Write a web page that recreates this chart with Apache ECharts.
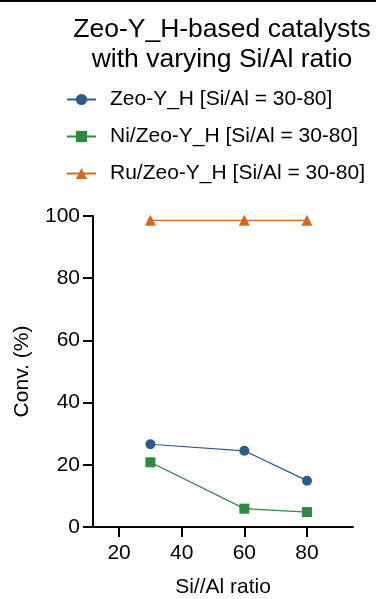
<!DOCTYPE html>
<html>
<head>
<meta charset="utf-8">
<script src="https://cdn.jsdelivr.net/npm/echarts@6/dist/echarts.min.js"></script>
<style>
  html, body { margin: 0; padding: 0; background: #fff; }
  #chart { width: 376px; height: 599px; }
</style>
</head>
<body>
<div id="chart"></div>
<script>
// Si/Al ratio of each sample
const siAlRatios = [30, 60, 80];
// Conversion (%) per catalyst
const zeoYH = [26.6, 24.5, 14.9];
const niZeoYH = [20.8, 5.9, 4.8];
const ruZeoYH = [98.6, 98.6, 98.6];
// Axis ticks
const xTicks = [20, 40, 60, 80];
const yTicks = [0, 20, 40, 60, 80, 100];

const seriesNames = [
  'Zeo-Y_H [Si/Al = 30-80]',
  'Ni/Zeo-Y_H [Si/Al = 30-80]',
  'Ru/Zeo-Y_H [Si/Al = 30-80]'
];
const FONT = "'Liberation Sans', Arial, Helvetica, sans-serif";
const colors = ['#2b5a8e', '#2e8a3e', '#d2691e'];

function pairs(ys) { return siAlRatios.map((x, i) => [x, ys[i]]); }

const chart = echarts.init(document.getElementById('chart'), null, { renderer: 'canvas' });
chart.setOption({
  animation: false,
  backgroundColor: '#fff',
  textStyle: { fontFamily: FONT, color: '#000' },
  title: {
    text: 'Zeo-Y_H-based catalysts\nwith varying Si/Al ratio',
    left: 217,
    top: 10,
    textAlign: 'center',
    textStyle: { fontFamily: FONT, fontSize: 26.5, fontWeight: 'normal', color: '#000', lineHeight: 30 }
  },
  legend: {
    orient: 'vertical',
    left: 66,
    top: 89,
    padding: 0,
    itemWidth: 29,
    itemHeight: 14,
    itemGap: 16,
    data: seriesNames,
    textStyle: { fontFamily: FONT, fontSize: 21, color: '#000', padding: [0, 0, 0, 9] }
  },
  grid: { left: 93, right: 23, top: 216, bottom: 72, containLabel: false, outerBoundsMode: 'none' },
  xAxis: {
    type: 'value',
    min: 11.67,
    max: 94.7,
    name: 'Si//Al ratio',
    nameLocation: 'middle',
    nameGap: 50,
    nameTextStyle: { fontFamily: FONT, fontSize: 21, color: '#000' },
    axisLine: { lineStyle: { color: '#000', width: 2 } },
    axisTick: { show: true, length: 10, lineStyle: { color: '#000', width: 2 }, customValues: xTicks },
    axisLabel: { fontFamily: FONT, fontSize: 21, color: '#000', margin: 16, customValues: xTicks },
    splitLine: { show: false }
  },
  yAxis: {
    type: 'value',
    min: 0,
    max: 100,
    interval: 20,
    name: 'Conv. (%)',
    nameLocation: 'middle',
    nameGap: 60,
    nameTextStyle: { fontFamily: FONT, fontSize: 21, color: '#000' },
    axisLine: { show: true, lineStyle: { color: '#000', width: 2 } },
    axisTick: { show: true, length: 10, lineStyle: { color: '#000', width: 2 }, customValues: yTicks },
    axisLabel: { fontFamily: FONT, fontSize: 21, color: '#000', margin: 13, customValues: yTicks },
    splitLine: { show: false }
  },
  series: [
    {
      name: seriesNames[0], type: 'line', data: pairs(zeoYH),
      symbol: 'circle', symbolSize: 10,
      itemStyle: { color: colors[0] }, lineStyle: { color: colors[0], width: 1.2 }
    },
    {
      name: seriesNames[1], type: 'line', data: pairs(niZeoYH),
      symbol: 'rect', symbolSize: 10,
      itemStyle: { color: colors[1] }, lineStyle: { color: colors[1], width: 1.2 }
    },
    {
      name: seriesNames[2], type: 'line', data: pairs(ruZeoYH),
      symbol: 'triangle', symbolSize: 11,
      itemStyle: { color: colors[2] }, lineStyle: { color: colors[2], width: 1.2 }
    }
  ],
  graphic: [
    { type: 'rect', left: 0, top: 0, shape: { width: 376, height: 2 }, style: { fill: '#000' } }
  ]
});
</script>
</body>
</html>
